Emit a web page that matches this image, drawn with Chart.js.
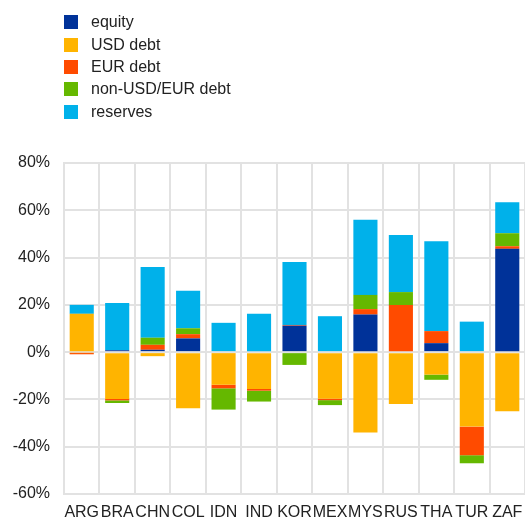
<!DOCTYPE html>
<html>
<head>
<meta charset="utf-8">
<script src="https://cdn.jsdelivr.net/npm/chart.js@4"></script>
<style>
  html, body { margin: 0; padding: 0; background: #fff; }
  #wrap { position: relative; width: 525px; height: 519px; }
  #legend { position: absolute; left: 64px; top: 11px; font-family: "Liberation Sans", Arial, sans-serif; font-size: 16px; color: #222; }
  .item { height: 22.4px; display: flex; align-items: center; }
  .box { width: 14px; height: 14px; margin-right: 13px; }
</style>
</head>
<body>
<div id="wrap">
  <canvas id="flows" width="525" height="519"></canvas>
  <div id="legend"></div>
</div>
<script>
const countries = ['ARG', 'BRA', 'CHN', 'COL', 'IDN', 'IND', 'KOR', 'MEX', 'MYS', 'RUS', 'THA', 'TUR', 'ZAF'];
const seriesNames = ['equity', 'USD debt', 'EUR debt', 'non-USD/EUR debt', 'reserves'];
const seriesColors = ['#003299', '#FFB400', '#FF4B00', '#65B800', '#00B1EA'];

// positive side
const equityPos   = [0, 0.8, 1.0, 5.8, 0, 0, 11.2, 0, 15.9, 0, 3.8, 0, 43.7];
const usdPos      = [16.2, 0, 0, 0, 0, 0, 0, 0, 0, 0, 0, 0, 0];
const eurPos      = [0, 0, 2.1, 1.8, 0, 0, 0.3, 0, 2.3, 19.9, 5.1, 0, 1.1];
const otherPos    = [0, 0, 3.0, 2.5, 0, 0, 0, 0, 6.0, 5.5, 0, 0, 5.5];
const reservesPos = [3.8, 20.0, 29.9, 15.9, 12.4, 16.2, 26.6, 15.2, 31.8, 24.1, 38.0, 12.9, 13.1];

// negative side
const equityNeg   = [0, 0, 0, 0, 0, 0, 0, 0, 0, 0, 0, 0, 0];
const usdNeg      = [-0.3, -19.8, -1.7, -23.7, -13.8, -15.6, 0, -19.7, -34.0, -21.9, -9.5, -31.5, -25.0];
const eurNeg      = [-0.6, -0.6, 0, 0, -1.5, -0.7, 0, -0.6, 0, 0, 0, -12.1, 0];
const otherNeg    = [0, -1.1, 0, 0, -9.0, -4.6, -5.4, -2.1, 0, 0, -2.2, -3.4, 0];
const reservesNeg = [0, 0, 0, 0, 0, 0, 0, 0, 0, 0, 0, 0, 0];

const yTicks = [-60, -40, -20, 0, 20, 40, 60, 80];

const posData = [equityPos, usdPos, eurPos, otherPos, reservesPos];
const negData = [equityNeg, usdNeg, eurNeg, otherNeg, reservesNeg];

let datasets = [];
seriesNames.forEach((name, i) => {
  datasets.push({ label: name, data: posData[i], backgroundColor: seriesColors[i], stack: 's' });
  datasets.push({ label: name + ' (neg)', data: negData[i], backgroundColor: seriesColors[i], stack: 's' });
});

// html legend
let legend = document.getElementById('legend');
seriesNames.forEach((name, i) => {
  let row = document.createElement('div');
  row.className = 'item';
  row.innerHTML = '<div class="box" style="background:' + seriesColors[i] + '"></div><span>' + name + '</span>';
  legend.appendChild(row);
});

Chart.defaults.font.family = '"Liberation Sans", Arial, sans-serif';
Chart.defaults.color = '#222';

let ctx = document.getElementById('flows').getContext('2d');
new Chart(ctx, {
  type: 'bar',
  data: { labels: countries, datasets: datasets },
  options: {
    responsive: false,
    animation: false,
    layout: { padding: { top: 163, right: 0, bottom: 0, left: 0 } },
    datasets: { bar: { barPercentage: 0.68, categoryPercentage: 1, borderWidth: 0 } },
    plugins: { legend: { display: false }, tooltip: { enabled: false } },
    scales: {
      x: {
        stacked: true,
        afterFit: scale => {
          scale.height = 25;
          scale.paddingLeft = 0;
          scale.paddingRight = 0;
        },
        grid: { color: '#e2e2e2', lineWidth: 2, drawTicks: false, offset: true },
        border: { color: '#e2e2e2', width: 2 },
        ticks: { font: { size: 16 }, padding: 9, maxRotation: 0, autoSkip: false }
      },
      y: {
        stacked: true,
        min: -60,
        max: 80,
        afterBuildTicks: scale => { scale.ticks = yTicks.map(v => ({ value: v })); },
        afterFit: scale => { scale.width = 64; },
        grid: { color: '#e2e2e2', lineWidth: 2, drawTicks: false },
        border: { color: '#e2e2e2', width: 2 },
        ticks: { font: { size: 16 }, padding: 14, callback: v => v + '%' }
      }
    }
  }
});
</script>
</body>
</html>
